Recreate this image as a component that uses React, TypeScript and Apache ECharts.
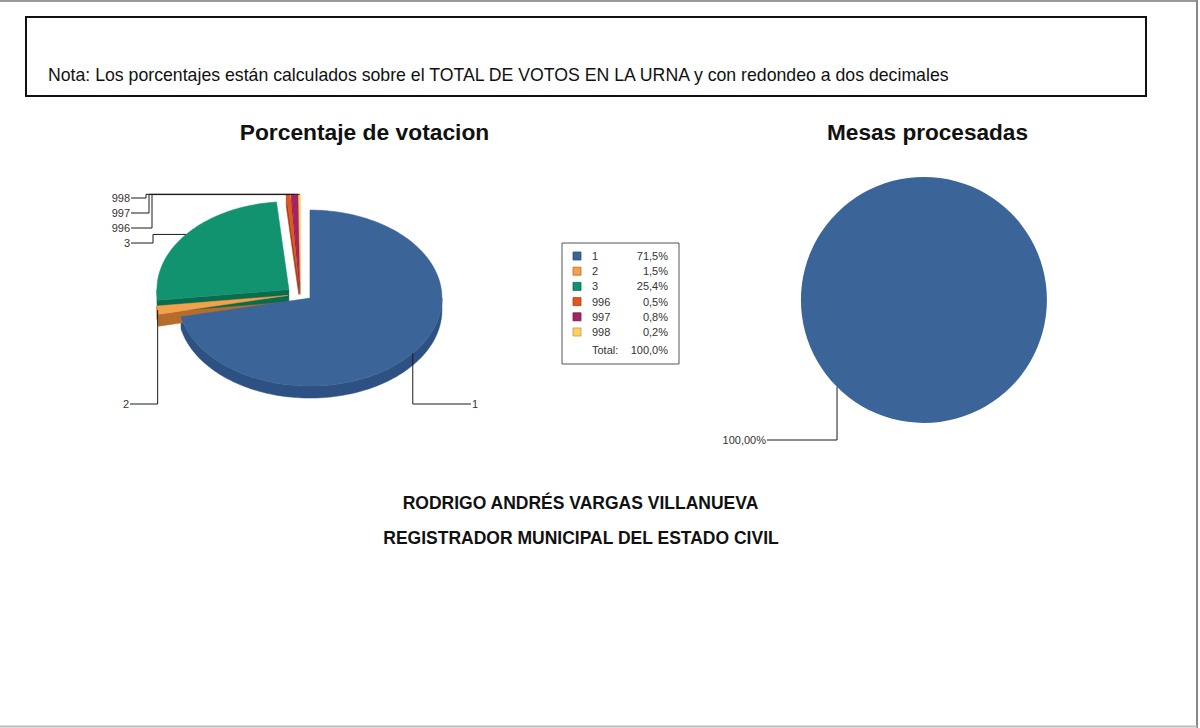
import React, { useEffect, useRef } from "react";
import * as echarts from "echarts";

// ---------- data ----------
const CATEGORIES = ["1", "2", "3", "996", "997", "998"];
const VOTE_PCT = [71.5, 1.5, 25.4, 0.5, 0.8, 0.2];
const TOTAL_LABEL = "Total:";
const TOTAL_PCT = 100.0;
const MESAS_NAMES = ["Procesadas"];
const MESAS_PCT = [100];

const TITLE_LEFT = "Porcentaje de votacion";
const TITLE_RIGHT = "Mesas procesadas";
const NOTE =
  "Nota: Los porcentajes están calculados sobre el TOTAL DE VOTOS EN LA URNA y con redondeo a dos decimales";
const SIGN_NAME = "RODRIGO ANDRÉS VARGAS VILLANUEVA";
const SIGN_ROLE = "REGISTRADOR MUNICIPAL DEL ESTADO CIVIL";

// ---------- styles / layout ----------
const FONT = "'Liberation Sans', Arial, Helvetica, sans-serif";
const TOP_COLORS = ["#3b6598", "#f4a14c", "#12936f", "#e2561f", "#a22462", "#ffcf62"];
const SIDE_COLORS = ["#2c5182", "#b56c2c", "#0a6b4e", "#a8401a", "#761a47", "#c99b3e"];
const EXPLODE = [12, 13, 15, 24, 24, 24];
const PIE = { cx: 300.6, cy: 294.3, rx: 132, ry: 88, depth: 12 };
// leader layout for each category label (layout only, anchors come from slice geometry)
const LABEL_LAYOUT = [
  { elbowX: null, labelY: 404, endX: 471, side: "right" },
  { elbowX: null, labelY: 404, endX: 130, side: "left" },
  { elbowX: 153, labelY: 243, endX: 131, side: "left" },
  { elbowX: 152, labelY: 228, endX: 131, side: "left" },
  { elbowX: 149, labelY: 213, endX: 131, side: "left" },
  { elbowX: 146, labelY: 198, endX: 131, side: "left" },
];

const fmtPct = (v: number, d: number) => v.toFixed(d).replace(".", ",") + "%";
const rad = (a: number) => (a * Math.PI) / 180;

export default function App() {
  const ref = useRef<HTMLDivElement>(null);

  useEffect(() => {
    if (!ref.current) return;
    const chart = echarts.init(ref.current, null, { renderer: "svg" });

    const sum = VOTE_PCT.reduce((a, b) => a + b, 0);
    const starts: number[] = [];
    const ends: number[] = [];
    let acc = 0;
    VOTE_PCT.forEach((v) => {
      starts.push((acc / sum) * 360);
      acc += v;
      ends.push((acc / sum) * 360);
    });

    const renderSlice = (params: any, api: any) => {
      const i = params.dataIndex;
      const a0 = starts[i];
      const a1 = ends[i];
      const mid = (a0 + a1) / 2;
      const d = EXPLODE[i];
      const ox = PIE.cx + Math.sin(rad(mid)) * d;
      const oy = PIE.cy - Math.cos(rad(mid)) * d * 0.5;
      const pt = (a: number, dy = 0) => [
        ox + PIE.rx * Math.sin(rad(a)),
        oy - PIE.ry * Math.cos(rad(a)) + dy,
      ];
      const arc = (s: number, e: number, dy: number) => {
        const n = Math.max(2, Math.ceil((e - s) / 1.5));
        const out: number[][] = [];
        for (let k = 0; k <= n; k++) out.push(pt(s + ((e - s) * k) / n, dy));
        return out;
      };
      const children: any[] = [];
      const D = PIE.depth;
      // outer front wall
      const fs = Math.max(a0, 90);
      const fe = Math.min(a1, 270);
      if (fe > fs) {
        const top = arc(fs, fe, 0);
        const bot = arc(fs, fe, D).reverse();
        children.push({
          type: "polygon",
          z2: 1,
          shape: { points: top.concat(bot) },
          style: { fill: SIDE_COLORS[i], stroke: SIDE_COLORS[i], lineWidth: 0.5 },
        });
      }
      // radial walls
      if (Math.sin(rad(a0)) < -1e-6) {
        const p = pt(a0);
        children.push({
          type: "polygon",
          z2: 2,
          shape: { points: [[ox, oy], p, [p[0], p[1] + D], [ox, oy + D]] },
          style: { fill: SIDE_COLORS[i], stroke: SIDE_COLORS[i], lineWidth: 0.5 },
        });
      }
      if (Math.sin(rad(a1)) > 1e-6) {
        const p = pt(a1);
        children.push({
          type: "polygon",
          z2: 2,
          shape: { points: [[ox, oy], p, [p[0], p[1] + D], [ox, oy + D]] },
          style: { fill: SIDE_COLORS[i], stroke: SIDE_COLORS[i], lineWidth: 0.5 },
        });
      }
      // top face
      children.push({
        type: "polygon",
        z2: 10,
        shape: { points: [[ox, oy]].concat(arc(a0, a1, 0)) },
        style: { fill: TOP_COLORS[i], stroke: TOP_COLORS[i], lineWidth: 0.5 },
      });
      // leader line + label
      const L = LABEL_LAYOUT[i];
      const anc = pt(mid);
      const pts =
        L.elbowX == null
          ? [anc, [anc[0], L.labelY], [L.endX, L.labelY]]
          : [anc, [L.elbowX, anc[1]], [L.elbowX, L.labelY], [L.endX, L.labelY]];
      children.push({
        type: "polyline",
        z2: 20,
        shape: { points: pts },
        style: { stroke: "#1a1a1a", lineWidth: 1, fill: null },
      });
      children.push({
        type: "text",
        z2: 21,
        style: {
          text: api.value(0) != null ? CATEGORIES[i] : "",
          x: L.side === "left" ? L.endX - 1 : L.endX + 1,
          y: L.labelY,
          align: L.side === "left" ? "right" : "left",
          verticalAlign: "middle",
          fill: "#333",
          fontSize: 11,
          fontFamily: FONT,
        },
      });
      return { type: "group", children };
    };

    // legend box built from arrays
    const legendX = 562;
    const legendY = 243;
    const rowH = 15.2;
    const legendChildren: any[] = [
      {
        type: "rect",
        shape: { x: legendX, y: legendY, width: 117, height: 121 },
        style: { fill: "#fff", stroke: "#555", lineWidth: 1 },
      },
    ];
    CATEGORIES.forEach((c, i) => {
      const cy = legendY + 13 + i * rowH;
      legendChildren.push({
        type: "rect",
        shape: { x: legendX + 11, y: cy - 4, width: 8, height: 8 },
        style: { fill: TOP_COLORS[i], stroke: SIDE_COLORS[i], lineWidth: 0.8 },
      });
      legendChildren.push({
        type: "text",
        style: {
          text: c,
          x: legendX + 30,
          y: cy,
          verticalAlign: "middle",
          fill: "#333",
          fontSize: 11,
          fontFamily: FONT,
        },
      });
      legendChildren.push({
        type: "text",
        style: {
          text: fmtPct(VOTE_PCT[i], 1),
          x: legendX + 106,
          y: cy,
          align: "right",
          verticalAlign: "middle",
          fill: "#333",
          fontSize: 11,
          fontFamily: FONT,
        },
      });
    });
    const totY = legendY + 13 + CATEGORIES.length * rowH + 3;
    legendChildren.push({
      type: "text",
      style: {
        text: TOTAL_LABEL,
        x: legendX + 30,
        y: totY,
        verticalAlign: "middle",
        fill: "#333",
        fontSize: 11,
        fontFamily: FONT,
      },
    });
    legendChildren.push({
      type: "text",
      style: {
        text: fmtPct(TOTAL_PCT, 1),
        x: legendX + 106,
        y: totY,
        align: "right",
        verticalAlign: "middle",
        fill: "#333",
        fontSize: 11,
        fontFamily: FONT,
      },
    });

    const centeredText = (text: string, x: number, y: number, size: number) => ({
      type: "text",
      x,
      y,
      style: {
        text,
        fill: "#111",
        fontSize: size,
        fontWeight: "bold",
        fontFamily: FONT,
        align: "center",
        verticalAlign: "middle",
      },
    });

    const option: any = {
      animation: false,
      backgroundColor: "#ffffff",
      graphic: [
        // page frame
        { type: "line", shape: { x1: 0, y1: 1, x2: 1197, y2: 1 }, style: { stroke: "#999", lineWidth: 2 } },
        { type: "line", shape: { x1: 1197, y1: 0, x2: 1197, y2: 728 }, style: { stroke: "#888", lineWidth: 2 } },
        { type: "line", shape: { x1: 0, y1: 726.5, x2: 1197, y2: 726.5 }, style: { stroke: "#bbb", lineWidth: 2 } },
        // note box
        {
          type: "rect",
          shape: { x: 26, y: 17, width: 1120, height: 79 },
          style: { fill: "none", stroke: "#111", lineWidth: 2 },
        },
        {
          type: "text",
          x: 48,
          y: 75,
          style: { text: NOTE, fill: "#111", fontSize: 17.7, fontFamily: FONT, verticalAlign: "middle" },
        },
        centeredText(TITLE_LEFT, 364.5, 132, 22.8),
        centeredText(TITLE_RIGHT, 927.5, 132, 22.6),
        centeredText(SIGN_NAME, 580.5, 503, 17.5),
        centeredText(SIGN_ROLE, 581, 538, 17.5),
        { type: "group", children: legendChildren },
      ],
      series: [
        {
          type: "custom",
          coordinateSystem: "none",
          renderItem: renderSlice,
          data: VOTE_PCT.map((v, i) => ({ name: CATEGORIES[i], value: [v] })),
        },
        {
          type: "pie",
          center: [924, 300],
          radius: 123,
          startAngle: 45,
          clockwise: true,
          data: MESAS_PCT.map((v, i) => ({ name: MESAS_NAMES[i], value: v })),
          itemStyle: { color: "#3b6598" },
          label: {
            show: true,
            position: "outside",
            formatter: (p: any) => fmtPct(p.value, 2),
            color: "#333",
            fontSize: 11,
            fontFamily: FONT,
          },
          labelLine: { show: true, lineStyle: { color: "#1a1a1a", width: 1 } },
          labelLayout: (p: any) => {
            const a = p.labelLinePoints && p.labelLinePoints[0]
              ? p.labelLinePoints[0]
              : [924 + 123 * Math.cos(rad(225)), 300 - 123 * Math.sin(rad(225))];
            return {
              x: 766,
              y: 440,
              align: "right",
              verticalAlign: "middle",
              labelLinePoints: [a, [a[0], 440], [767, 440]],
            };
          },
          emphasis: { disabled: true },
          silent: true,
        },
      ],
    };

    chart.setOption(option);
    return () => chart.dispose();
  }, []);

  return (
    <div
      ref={ref}
      style={{ position: "absolute", left: 0, top: 0, width: 1200, height: 728 }}
    />
  );
}
